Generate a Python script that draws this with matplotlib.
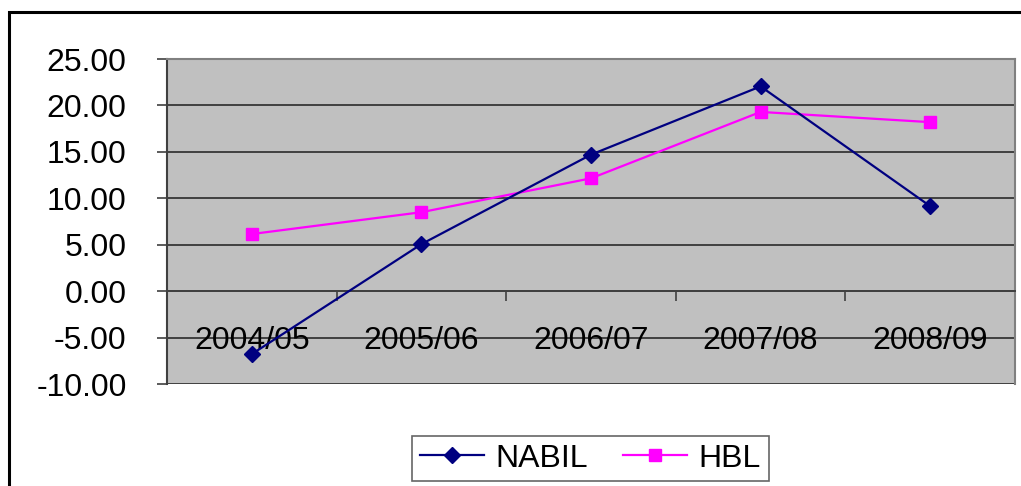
import matplotlib
matplotlib.use("Agg")
import matplotlib.pyplot as plt
from matplotlib.patches import Rectangle
from matplotlib.transforms import ScaledTranslation

categories = ["2004/05", "2005/06", "2006/07", "2007/08", "2008/09"]
nabil = [-6.78, 5.06, 14.70, 22.05, 9.15]
hbl = [6.15, 8.50, 12.15, 19.30, 18.20]
yticks = [-10, -5, 0, 5, 10, 15, 20, 25]

plt.rcParams['font.family'] = ['Liberation Sans', 'DejaVu Sans']

W, H = 1021, 486
FS = 23
fig = plt.figure(figsize=(W/100, H/100), dpi=100)
# outer border
fig.patches.append(Rectangle((9/W, -0.1), 1.2, 1 - 12/H + 0.1, transform=fig.transFigure,
                             fill=False, edgecolor='black', linewidth=2.2))

l, r, t, b = 167, 1015, 59, 384
ax = fig.add_axes([l/W, 1 - b/H, (r-l)/W, (b-t)/H])
ax.set_facecolor('#C0C0C0')

x = list(range(len(categories)))
ax.plot(x, nabil, color='#000080', marker='D', markersize=8, linewidth=1.6, label='NABIL', zorder=4)
ax.plot(x, hbl, color='#FF00FF', marker='s', markersize=9, linewidth=1.6, label='HBL', zorder=3)

ax.set_xlim(-0.5, 4.5)
ax.set_ylim(-10, 25)
ax.set_yticks(yticks)
ax.set_yticklabels([f"{v:.2f}" for v in yticks], fontsize=FS)
for yv in yticks:
    ax.axhline(yv, color='#404040', linewidth=1.4, zorder=1)

for s in ['top', 'right']:
    ax.spines[s].set_color('#808080')
    ax.spines[s].set_linewidth(1.5)
ax.spines['left'].set_color('#404040')
ax.spines['left'].set_linewidth(1.5)
ax.spines['bottom'].set_position(('data', 0))
ax.spines['bottom'].set_color('#404040')
ax.spines['bottom'].set_linewidth(1.4)

ax.set_xticks(x)
ax.set_xticklabels(categories, fontsize=FS)
shift = ScaledTranslation(-5/100, 0, fig.dpi_scale_trans)
for lab in ax.get_xticklabels():
    lab.set_transform(lab.get_transform() + shift)
ax.set_xticks([0.5, 1.5, 2.5, 3.5], minor=True)
ax.tick_params(axis='x', which='major', length=0, pad=25)
ax.tick_params(axis='x', which='minor', length=7, width=1.2, color='#404040', direction='out')
ax.tick_params(axis='y', which='major', length=7, width=1.2, color='#404040', pad=22)

leg = fig.legend(loc='center', bbox_to_anchor=((412+769)/2/W, 1 - 458.5/H), ncol=2,
                 fontsize=FS, frameon=True, fancybox=False, handlelength=2.0,
                 handletextpad=0.35, columnspacing=1.1, borderpad=0.25)
leg.get_frame().set_edgecolor('#404040')
leg.get_frame().set_linewidth(1.2)

fig.savefig('out.png', dpi=100)
